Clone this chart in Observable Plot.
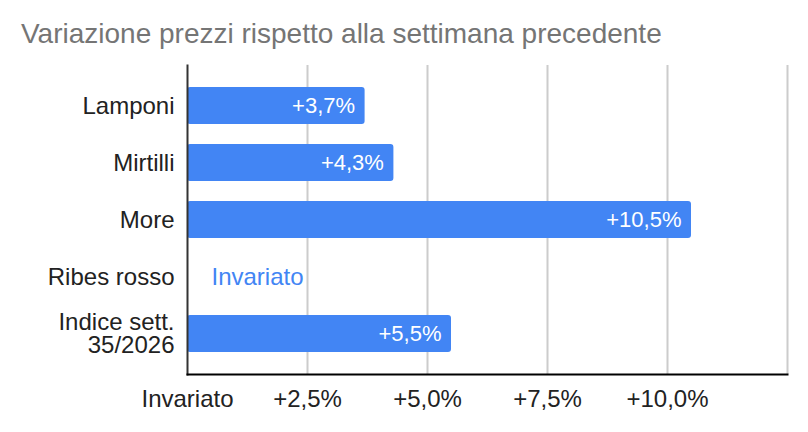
<!DOCTYPE html>
<html>
<head>
<meta charset="utf-8">
<script src="https://cdn.jsdelivr.net/npm/d3@7"></script>
<script src="https://cdn.jsdelivr.net/npm/@observablehq/plot@0.6"></script>
<style>
  html, body { margin: 0; padding: 0; background: #fff; }
  #wrap { width: 808px; height: 432px; overflow: hidden; font-family: "Liberation Sans", Arial, sans-serif; }
  #title { box-sizing: border-box; height: 52px; padding: 19px 0 0 21px; font-size: 28px; line-height: 30px; color: #757575; white-space: nowrap; }
</style>
</head>
<body>
<div id="wrap">
  <div id="title">Variazione prezzi rispetto alla settimana precedente</div>
  <div id="chart"></div>
</div>
<script>
const categories = ["Lamponi", "Mirtilli", "More", "Ribes rosso", "Indice sett.\n35/2026"];
const values = [3.7, 4.3, 10.5, 0, 5.5];
const valueLabels = ["+3,7%", "+4,3%", "+10,5%", "Invariato", "+5,5%"];
const xTicks = [0, 2.5, 5, 7.5, 10];
const xTickLabels = ["Invariato", "+2,5%", "+5,0%", "+7,5%", "+10,0%"];
const gridTicks = [2.5, 5, 7.5, 10, 12.5];

const data = categories.map((c, i) => ({category: c, value: values[i], label: valueLabels[i]}));
const blue = "#4285F4";

const chart = Plot.plot({
  width: 808,
  height: 380,
  marginTop: 13,
  marginBottom: 58,
  marginLeft: 187,
  marginRight: 21,
  style: {fontFamily: "'Liberation Sans', Arial, sans-serif", color: "#222", background: "#fff"},
  x: {domain: [0, 12.5]},
  y: {domain: categories, paddingInner: 0.353, paddingOuter: 0.343, label: null},
  marks: [
    Plot.gridX(gridTicks, {stroke: "#cccccc", strokeOpacity: 1, strokeWidth: 2}),
    Plot.barX(data.filter(d => d.value > 0), {x: "value", y: "category", fill: blue, rx: 3}),
    Plot.frame({anchor: "left", stroke: "#333", strokeWidth: 2}),
    Plot.frame({anchor: "bottom", stroke: "#000", strokeWidth: 2}),
    Plot.text(data.filter(d => d.value > 0), {x: "value", y: "category", text: "label", textAnchor: "end", dx: -10, fill: "#fff", fontSize: 22}),
    Plot.text(data.filter(d => d.value === 0), {x: "value", y: "category", text: "label", textAnchor: "start", dx: 24, fill: blue, fontSize: 24}),
    Plot.axisY({tickSize: 0, tickPadding: 13, fontSize: 24, lineHeight: 0.98, label: null, fill: "#222"}),
    Plot.axisX(xTicks, {tickSize: 0, tickPadding: 15, fontSize: 24, label: null, fill: "#222",
      tickFormat: d => xTickLabels[xTicks.indexOf(d)]})
  ]
});
document.getElementById("chart").appendChild(chart);
</script>
</body>
</html>
